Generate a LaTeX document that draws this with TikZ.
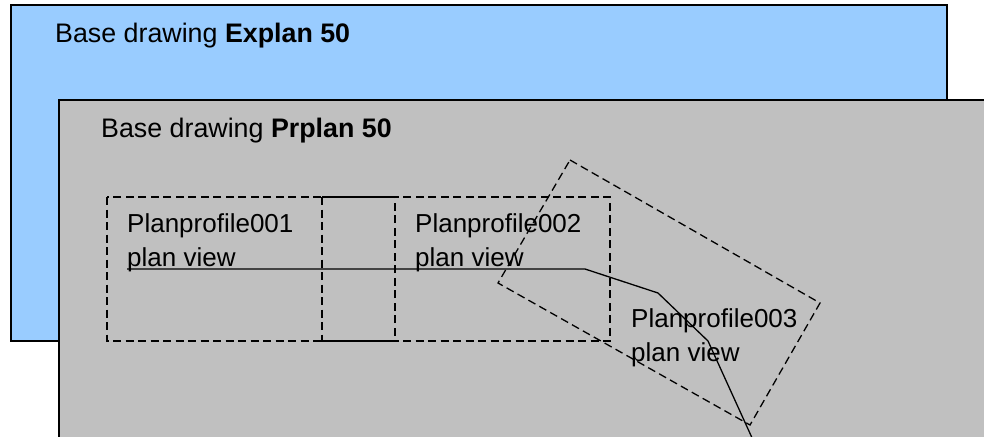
\documentclass[tikz,border=0pt]{standalone}
\usepackage{fontspec}
\setmainfont{Liberation Sans}
\usepackage{xcolor}
\usetikzlibrary{calc,positioning}
\definecolor{explanblue}{HTML}{99CCFF}
\definecolor{prplangray}{HTML}{C0C0C0}

\begin{document}
\begin{tikzpicture}[x=1pt,y=-1pt,
    lbl/.style={anchor=base west,inner sep=0pt,font=\fontsize{26}{34}\selectfont,align=left},
    head/.style={lbl,font=\fontsize{26.8}{34}\selectfont},
    frame/.style={dash pattern=on 8pt off 4.5pt,line width=1.3pt},
    route/.style={line width=1.3pt}]
  \useasboundingbox (0,0) rectangle (984,436);
  \clip (0,0) rectangle (984,436);
  % base drawings
  \filldraw[fill=explanblue,line width=1.5pt] (11,5) rectangle (947,341);
  \node[head] (explan) at (55,42) {Base drawing \textbf{Explan 50}};
  \filldraw[fill=prplangray,line width=1.5pt] (59,100) rectangle (1000,460);
  \node[head] (prplan) at (101,137) {Base drawing \textbf{Prplan 50}};
  % plan profile frames (overlap of the two first ones shows solid)
  \draw[frame] (107,197) rectangle (395,341);
  \draw[frame] (322,197) rectangle (610,341);
  \draw[line width=1.3pt] (322,197) -- (395,197) (322,341) -- (395,341);
  \draw[frame] (570,160) -- (820,303) -- (750,425) -- (498,283) -- cycle;
  \node[lbl] (pp1) at (127,232) {Planprofile001};
  \node[lbl] (pv1) at (127,266) {plan view};
  \node[lbl] (pp2) at (415,232) {Planprofile002};
  \node[lbl] (pv2) at (415,266) {plan view};
  \node[lbl] (pp3) at (631,327) {Planprofile003};
  \node[lbl] (pv3) at (631,361) {plan view};
  % alignment
  \draw[route] (127,269) -- (585,269) -- (658,293) -- (708,341) -- (753,440);
\end{tikzpicture}
\end{document}
